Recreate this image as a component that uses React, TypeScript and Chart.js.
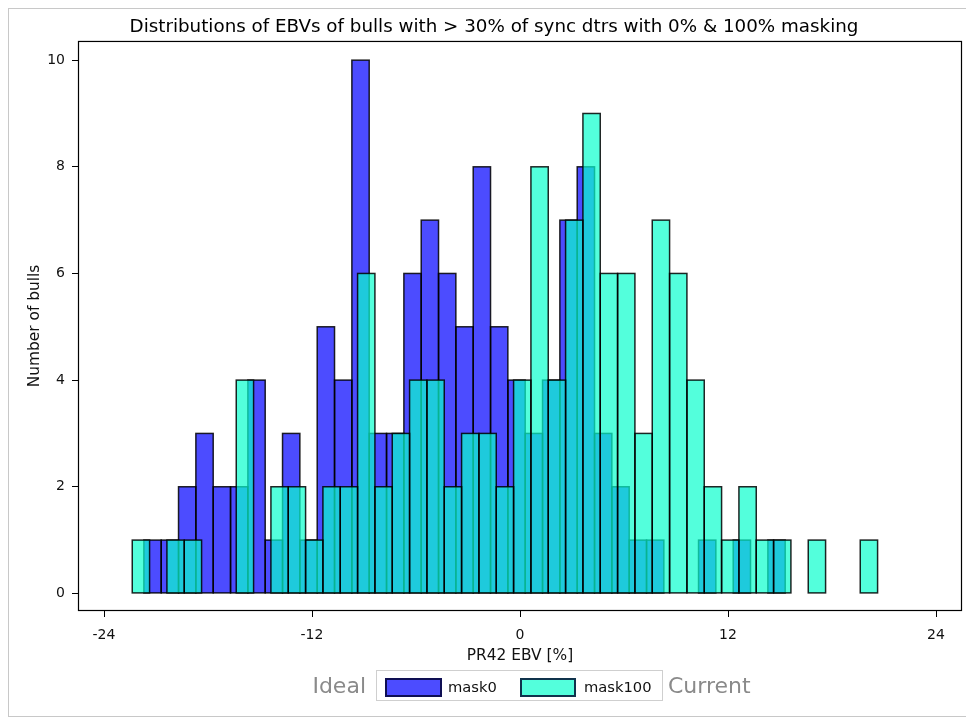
import React, { useEffect, useRef } from 'react';
import { Chart, registerables } from 'chart.js';

Chart.register(...registerables);

// ---- data ----
const seriesLabels = ['mask0', 'mask100'];
const mask0Counts = [1, 1, 2, 3, 2, 2, 4, 1, 3, 1, 5, 4, 10, 3, 3, 6, 7, 6, 5, 8, 5, 4, 3, 4, 7, 8, 3, 2, 1, 1, 0, 0, 1, 0, 1, 0, 1];
const mask0BinStart = -21.7;
const mask100Counts = [1, 0, 1, 1, 0, 0, 4, 0, 2, 2, 1, 2, 2, 6, 2, 3, 4, 4, 2, 3, 3, 2, 4, 8, 4, 7, 9, 6, 6, 3, 7, 6, 4, 2, 1, 2, 1, 1, 0, 1, 0, 0, 1];
const mask100BinStart = -22.37;
const binWidth = 1.0;
const xTicks = [-24, -12, 0, 12, 24];
const yTicks = [0, 2, 4, 6, 8, 10];

const titleText = 'Distributions of EBVs of bulls with > 30% of sync dtrs with 0% & 100% masking';
const xTitle = 'PR42 EBV [%]';
const yTitle = 'Number of bulls';

const FONT = "'DejaVu Sans', sans-serif";
const BLUE = 'rgba(0,0,255,0.7)';
const AQUA = 'rgba(10,255,205,0.7)';
const EDGE = 'rgba(0,0,0,0.85)';

function toBins(counts: number[], start: number) {
  return counts.map((c, i) => ({ x: start + binWidth * (i + 0.5), y: c === 0 ? null : c }));
}

// strokes each bar outline centred on its edges (histogram-style edges)
const edgePlugin = {
  id: 'barEdges',
  afterDatasetDraw(chart: any, args: any) {
    const { ctx, chartArea } = chart;
    const meta = args.meta;
    ctx.save();
    ctx.beginPath();
    ctx.rect(chartArea.left, chartArea.top, chartArea.right - chartArea.left, chartArea.bottom - chartArea.top);
    ctx.clip();
    ctx.strokeStyle = EDGE;
    ctx.lineWidth = 1.5;
    meta.data.forEach((el: any, i: number) => {
      const parsed = meta._parsed[i];
      if (!parsed || parsed.y == null) return;
      const { x, y, base, width } = el.getProps(['x', 'y', 'base', 'width'], true);
      ctx.strokeRect(x - width / 2, y, width, base - y);
    });
    ctx.restore();
  },
};

const framePlugin = {
  id: 'frame',
  afterDatasetsDraw(chart: any) {
    const { ctx, chartArea } = chart;
    const { left, top, right, bottom } = chartArea;
    ctx.save();
    ctx.strokeStyle = '#000';
    ctx.lineWidth = 1.2;
    ctx.strokeRect(left + 0.5, top + 0.5, right - left - 1, bottom - top - 1);
    ctx.restore();
  },
};

export default function App() {
  const ref = useRef<HTMLCanvasElement | null>(null);

  useEffect(() => {
    if (!ref.current) return;
    const tickFont = { family: FONT, size: 14 };
    const barCommon = {
      borderWidth: 0,
      grouped: false,
      barPercentage: 1,
      categoryPercentage: 1,
      inflateAmount: 0,
    };
    const chart = new Chart(ref.current, {
      type: 'bar',
      data: {
        datasets: [
          {
            ...barCommon,
            label: seriesLabels[0],
            data: toBins(mask0Counts, mask0BinStart) as any,
            xAxisID: 'x',
            yAxisID: 'y',
            backgroundColor: BLUE,
            order: 1,
          } as any,
          {
            ...barCommon,
            label: seriesLabels[1],
            data: toBins(mask100Counts, mask100BinStart) as any,
            xAxisID: 'x2',
            yAxisID: 'y',
            backgroundColor: AQUA,
            order: 0,
          } as any,
        ],
      },
      options: {
        animation: false,
        responsive: false,
        maintainAspectRatio: false,
        layout: { padding: { left: 0, right: 0, top: 0, bottom: 0 } },
        plugins: {
          legend: { display: false },
          tooltip: { enabled: false },
          title: {
            display: true,
            text: titleText,
            color: '#000',
            font: { family: FONT, size: 18.3, weight: 'normal' as any },
            padding: { top: 8, bottom: 3 },
          },
        },
        scales: {
          x: {
            type: 'linear',
            min: -25.5,
            max: 25.5,
            offset: false,
            afterBuildTicks: (s: any) => {
              s.ticks = xTicks.map((v) => ({ value: v }));
            },
            afterFit: (s: any) => {
              s.height = 105;
            },
            ticks: {
              font: tickFont,
              color: '#111',
              padding: 10,
              maxRotation: 0,
              autoSkip: false,
              callback: (v: any) => String(v),
            },
            grid: {
              offset: false,
              drawOnChartArea: false,
              drawTicks: true,
              tickLength: 6,
              color: '#000',
              tickColor: '#000',
            },
            border: { display: false },
            title: {
              display: true,
              text: xTitle,
              color: '#111',
              font: { family: FONT, size: 15.4 },
              padding: { top: 0, bottom: 50.8 },
            },
          },
          x2: {
            type: 'linear',
            min: -25.5,
            max: 25.5,
            offset: false,
            display: false,
            grid: { offset: false },
          },
          y: {
            type: 'linear',
            min: -0.33,
            max: 10.36,
            afterBuildTicks: (s: any) => {
              s.ticks = yTicks.map((v) => ({ value: v }));
            },
            afterFit: (s: any) => {
              s.width = 70;
            },
            ticks: {
              font: tickFont,
              color: '#111',
              padding: 7,
              autoSkip: false,
              callback: (v: any) => String(v),
            },
            grid: {
              drawOnChartArea: false,
              drawTicks: true,
              tickLength: 6,
              color: '#000',
              tickColor: '#000',
            },
            border: { display: false },
            title: {
              display: true,
              text: yTitle,
              color: '#111',
              font: { family: FONT, size: 15.4 },
              padding: { top: 17.8, bottom: 0 },
            },
          },
          yRight: {
            type: 'linear',
            position: 'right',
            min: 0,
            max: 1,
            ticks: { display: false },
            grid: { display: false, drawTicks: false },
            border: { display: false },
            afterFit: (s: any) => {
              s.width = 18;
            },
          },
        },
      } as any,
      plugins: [edgePlugin, framePlugin],
    });
    return () => chart.destroy();
  }, []);

  const swatch = (bg: string, left: number, width: number) => (
    <div
      style={{
        position: 'absolute',
        left,
        top: 7,
        width,
        height: 19,
        background: bg,
        border: '2px solid rgba(0,0,40,0.8)',
        boxSizing: 'border-box',
      }}
    />
  );
  const legendText = (text: string, left: number) => (
    <div
      style={{
        position: 'absolute',
        left,
        top: 0,
        height: 31,
        lineHeight: '31px',
        fontFamily: FONT,
        fontSize: 14.7,
        color: '#111',
        whiteSpace: 'nowrap',
      }}
    >
      {text}
    </div>
  );

  return (
    <div style={{ position: 'relative', width: 966, height: 709, overflow: 'hidden' }}>
      <canvas ref={ref} width={972} height={708} style={{ position: 'absolute', left: 0, top: 0, width: 972, height: 708 }} />
      <div
        style={{
          position: 'absolute',
          left: 0,
          top: 0,
          width: 1000,
          height: 709,
          border: '1px solid #c8c8c8',
          boxSizing: 'border-box',
          pointerEvents: 'none',
        }}
      />
      <div
        style={{
          position: 'absolute',
          right: 966 - 358,
          top: 662,
          height: 31,
          lineHeight: '31px',
          fontFamily: FONT,
          fontSize: 22,
          color: '#8a8a8a',
          whiteSpace: 'nowrap',
        }}
      >
        Ideal
      </div>
      <div
        style={{
          position: 'absolute',
          left: 368,
          top: 662,
          width: 287,
          height: 31,
          border: '1px solid #cfcfcf',
          boxSizing: 'border-box',
          background: '#fff',
        }}
      >
        {swatch(BLUE, 8, 57)}
        {legendText(seriesLabels[0], 71)}
        {swatch(AQUA, 143, 56)}
        {legendText(seriesLabels[1], 207)}
      </div>
      <div
        style={{
          position: 'absolute',
          left: 660,
          top: 662,
          height: 31,
          lineHeight: '31px',
          fontFamily: FONT,
          fontSize: 22,
          color: '#8a8a8a',
          whiteSpace: 'nowrap',
        }}
      >
        Current
      </div>
    </div>
  );
}
